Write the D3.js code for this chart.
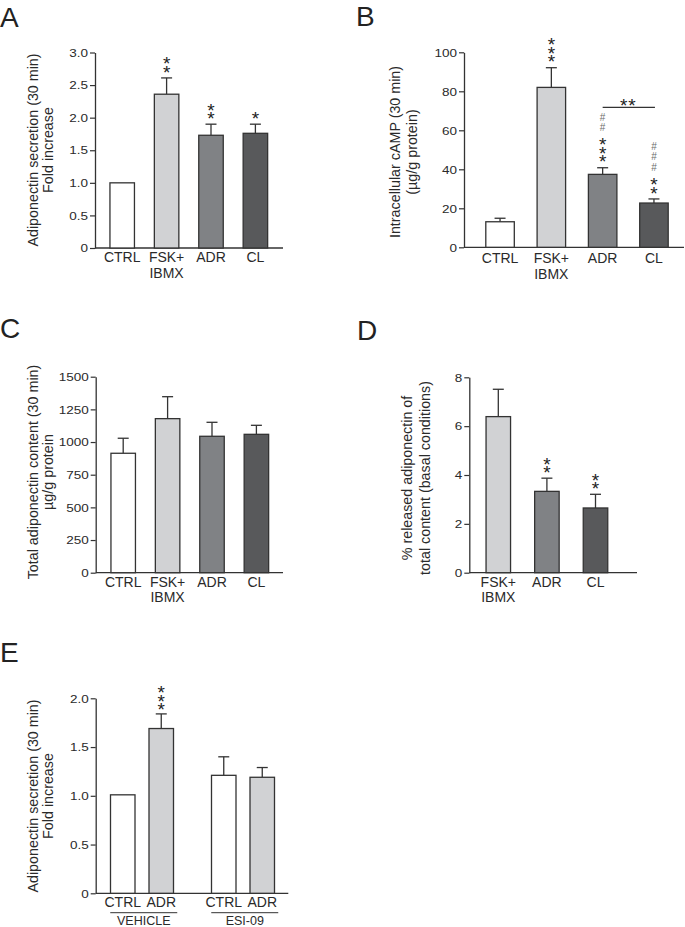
<!DOCTYPE html>
<html>
<head>
<meta charset="utf-8">
<script src="https://cdn.jsdelivr.net/npm/d3@7"></script>
<style>
  html, body { margin: 0; padding: 0; background: #fff; }
  svg { display: block; font-family: "Liberation Sans", Arial, Helvetica, sans-serif; }
  .vstack { writing-mode: vertical-rl; text-orientation: upright; }
</style>
</head>
<body>
<svg id="chart" width="685" height="927"></svg>
<script>
// ---------- DATA ----------
// Panel A: adiponectin secretion (fold increase)
const catsA = ["CTRL", "FSK+|IBMX", "ADR", "CL"];
const valsA = [1.0, 2.36, 1.73, 1.76];
const errsA = [0, 0.25, 0.17, 0.14];
const starsA = [0, 2, 2, 1];
const ticksA = [0, 0.5, 1.0, 1.5, 2.0, 2.5, 3.0];

// Panel B: intracellular cAMP
const catsB = ["CTRL", "FSK+|IBMX", "ADR", "CL"];
const valsB = [13.1, 82.0, 37.4, 22.7];
const errsB = [1.8, 10.1, 3.4, 2.1];
const starsB = [0, 3, 3, 2];
const hashesB = [0, 0, 2, 3];
const ticksB = [0, 20, 40, 60, 80, 100];

// Panel C: total adiponectin content
const catsC = ["CTRL", "FSK+|IBMX", "ADR", "CL"];
const valsC = [914, 1179, 1044, 1059];
const errsC = [115, 168, 107, 69];
const ticksC = [0, 250, 500, 750, 1000, 1250, 1500];

// Panel D: % released adiponectin
const catsD = ["FSK+|IBMX", "ADR", "CL"];
const valsD = [6.39, 3.33, 2.65];
const errsD = [1.12, 0.54, 0.56];
const starsD = [0, 2, 2];
const ticksD = [0, 2, 4, 6, 8];

// Panel E: adiponectin secretion with ESI-09
const groupsE = ["VEHICLE", "ESI-09"];
const condsE = ["CTRL", "ADR"];
const valsE = [[1.01, 1.69], [1.21, 1.19]];
const errsE = [[0, 0.15], [0.19, 0.10]];
const starsE = [[0, 3], [0, 0]];
const ticksE = [0, 0.5, 1.0, 1.5, 2.0];

// ---------- STYLE ----------
const WHITE = "#ffffff", LIGHT = "#d1d2d4", MID = "#808285", DARK = "#58595b";
const INK = "#333333", TXT = "#2a2a2a";
const STAR_FS = 19, STAR_STEP = 8.7, HASH_FS = 10, HASH_STEP = 10.5;
const VADV = 1.117; // vertical advance of an upright glyph (em)

const svg = d3.select("#chart");
const fmt1 = d => d === 0 ? "0" : d3.format(".1f")(d);
const fmt0 = d => d3.format("d")(d);

function yLabel(g, lines, xs, yc, fs) {
  lines.forEach((t, i) => {
    g.append("text")
      .attr("transform", `translate(${xs[i]},${yc}) rotate(-90)`)
      .attr("text-anchor", "middle")
      .attr("dominant-baseline", "central")
      .attr("font-size", fs)
      .attr("fill", TXT)
      .text(t);
  });
}

function letter(t, x, y) {
  svg.append("text").attr("x", x).attr("y", y)
    .attr("font-size", 28).attr("fill", "#222").text(t);
}

// vertical stack of symbols as a single text element
function vstack(g, cx, yTopCenter, n, ch, fs, step, fill, centerFrac) {
  if (!n) return;
  g.append("text").attr("class", "vstack")
    .attr("x", cx).attr("y", yTopCenter - centerFrac * fs)
    .attr("font-size", fs).attr("fill", fill)
    .attr("letter-spacing", step - VADV * fs)
    .text(ch.repeat(n));
}

function annot(g, cx, yFirst, nStars, nHash) {
  if (nStars) {
    const topC = yFirst - (nStars - 1) * STAR_STEP;
    vstack(g, cx, topC, nStars, "*", STAR_FS, STAR_STEP, "#222", 0.4);
  }
  if (nHash) {
    const base = yFirst - (Math.max(nStars, 1) - 1) * STAR_STEP - 14;
    const topH = base - (nHash - 1) * HASH_STEP;
    vstack(g, cx, topH, nHash, "#", HASH_FS, HASH_STEP, "#6e6e6e", 0.6);
  }
}

function styleYAxis(ax) {
  ax.select(".domain").attr("stroke", INK).attr("stroke-width", 1.3);
  ax.selectAll(".tick line").attr("stroke", INK).attr("stroke-width", 1.2);
  ax.selectAll(".tick text").attr("font-size", 13.5).attr("fill", TXT)
    .attr("font-family", '"Liberation Sans", Arial, sans-serif')
    .attr("transform", "scale(1,0.86)");
}

function panel(cfg) {
  const g = svg.append("g");
  const y = d3.scaleLinear().domain([0, cfg.max]).range([cfg.y0, cfg.yTop]);
  const x = d3.scalePoint().domain(cfg.cats).range(cfg.xRange).padding(0.5);

  g.append("line")
    .attr("x1", cfg.axisX).attr("x2", cfg.xEnd)
    .attr("y1", cfg.y0).attr("y2", cfg.y0)
    .attr("stroke", INK).attr("stroke-width", 1.3);

  const ax = g.append("g").attr("transform", `translate(${cfg.axisX},0)`)
    .call(d3.axisLeft(y).tickValues(cfg.ticks).tickFormat(cfg.fmt)
      .tickSize(5).tickSizeOuter(0).tickPadding(2));
  styleYAxis(ax);

  cfg.cats.forEach((c, i) => {
    if (!cfg.errs[i]) return;
    const cx = x(c);
    const yt = y(cfg.vals[i] + cfg.errs[i]);
    g.append("line").attr("x1", cx).attr("x2", cx)
      .attr("y1", y(cfg.vals[i])).attr("y2", yt)
      .attr("stroke", INK).attr("stroke-width", 1.3);
    g.append("line").attr("x1", cx - 5.5).attr("x2", cx + 5.5)
      .attr("y1", yt).attr("y2", yt)
      .attr("stroke", INK).attr("stroke-width", 1.3);
  });

  g.selectAll("rect.bar").data(cfg.cats).join("rect")
    .attr("x", c => x(c) - cfg.barW / 2)
    .attr("width", cfg.barW)
    .attr("y", (c, i) => y(cfg.vals[i]))
    .attr("height", (c, i) => cfg.y0 - y(cfg.vals[i]))
    .attr("fill", (c, i) => cfg.fills[i])
    .attr("stroke", INK).attr("stroke-width", 1.3);

  cfg.cats.forEach(c => {
    const t = g.append("text").attr("x", x(c)).attr("y", cfg.y0 + cfg.xlDy)
      .attr("text-anchor", "middle").attr("font-size", 14).attr("fill", TXT);
    c.split("|").forEach((s, k) => {
      t.append("tspan").attr("x", x(c)).attr("dy", k === 0 ? 0 : 15.5).text(s);
    });
  });

  cfg.cats.forEach((c, i) => {
    const top = y(cfg.vals[i] + (cfg.errs[i] || 0));
    annot(g, x(c), top - 8.3, cfg.stars ? cfg.stars[i] : 0, cfg.hashes ? cfg.hashes[i] : 0);
  });

  yLabel(g, cfg.label, cfg.labelX, cfg.labelY, 14.3);
  return { g, x, y };
}

// ---- Panel A ----
letter("A", 0, 27);
panel({
  cats: catsA, vals: valsA, errs: errsA, stars: starsA, ticks: ticksA, max: 3.0, fmt: fmt1,
  axisX: 95, y0: 248, yTop: 52.5, xRange: [100, 277.6], xEnd: 283, barW: 24.5,
  fills: [WHITE, LIGHT, MID, DARK], xlDy: 14,
  label: ["Adiponectin secretion (30 min)", "Fold increase"], labelX: [33, 48], labelY: 150
});

// ---- Panel B ----
letter("B", 356, 26);
const pB = panel({
  cats: catsB, vals: valsB, errs: errsB, stars: starsB, hashes: hashesB, ticks: ticksB, max: 100, fmt: fmt0,
  axisX: 464, y0: 247.3, yTop: 52.3, xRange: [474.4, 679.6], xEnd: 684, barW: 28.5,
  fills: [WHITE, LIGHT, MID, DARK], xlDy: 16,
  label: ["Intracellular cAMP (30 min)", "(µg/g protein)"], labelX: [395, 411.5], labelY: 152
});
{
  const xa = pB.x(catsB[2]), xc = pB.x(catsB[3]);
  pB.g.append("line").attr("x1", xa).attr("x2", xc + 1).attr("y1", 107.3).attr("y2", 107.3)
    .attr("stroke", INK).attr("stroke-width", 1.2);
  pB.g.append("text").attr("x", (xa + xc) / 2).attr("y", 100.5 + 0.58 * STAR_FS)
    .attr("text-anchor", "middle").attr("font-size", STAR_FS).attr("fill", "#222")
    .attr("letter-spacing", 1).text("**");
}

// ---- Panel C ----
letter("C", 0, 338);
panel({
  cats: catsC, vals: valsC, errs: errsC, ticks: ticksC, max: 1500, fmt: fmt0,
  axisX: 95.7, y0: 572.7, yTop: 376.7, xRange: [101, 278.6], xEnd: 283, barW: 24.5,
  fills: [WHITE, LIGHT, MID, DARK], xlDy: 14,
  label: ["Total adiponectin content (30 min)", "µg/g protein"], labelX: [33, 48], labelY: 472
});

// ---- Panel D ----
letter("D", 357, 340);
panel({
  cats: catsD, vals: valsD, errs: errsD, stars: starsD, ticks: ticksD, max: 8, fmt: fmt0,
  axisX: 469.3, y0: 572.7, yTop: 377.3, xRange: [474, 619.8], xEnd: 637, barW: 24.5,
  fills: [LIGHT, MID, DARK], xlDy: 14,
  label: ["% released adiponectin of", "total content (basal conditions)"], labelX: [406.5, 425], labelY: 478
});

// ---- Panel E ----
letter("E", 0, 662);
{
  const g = svg.append("g");
  const y0 = 893.3, axisX = 95.7;
  const y = d3.scaleLinear().domain([0, 2.0]).range([y0, 698.3]);
  const gx = d3.scalePoint().domain(groupsE).range([91.5, 293.5]).padding(0.5);
  const ix = d3.scalePoint().domain(condsE).range([-38.5, 38.5]).padding(0.5);
  const fillsE = [WHITE, LIGHT];
  const barW = 24.5;

  g.append("line").attr("x1", axisX).attr("x2", 288.3).attr("y1", y0).attr("y2", y0)
    .attr("stroke", INK).attr("stroke-width", 1.3);
  const ax = g.append("g").attr("transform", `translate(${axisX},0)`)
    .call(d3.axisLeft(y).tickValues(ticksE).tickFormat(fmt1).tickSize(5).tickSizeOuter(0).tickPadding(2));
  styleYAxis(ax);

  groupsE.forEach((grp, gi) => {
    condsE.forEach((c, ci) => {
      const cx = gx(grp) + ix(c);
      const v = valsE[gi][ci], e = errsE[gi][ci];
      if (e) {
        g.append("line").attr("x1", cx).attr("x2", cx).attr("y1", y(v)).attr("y2", y(v + e))
          .attr("stroke", INK).attr("stroke-width", 1.3);
        g.append("line").attr("x1", cx - 5.5).attr("x2", cx + 5.5).attr("y1", y(v + e)).attr("y2", y(v + e))
          .attr("stroke", INK).attr("stroke-width", 1.3);
      }
      g.append("rect").attr("x", cx - barW / 2).attr("width", barW)
        .attr("y", y(v)).attr("height", y0 - y(v))
        .attr("fill", fillsE[ci]).attr("stroke", INK).attr("stroke-width", 1.3);
      g.append("text").attr("x", cx).attr("y", y0 + 13.7).attr("text-anchor", "middle")
        .attr("font-size", 14).attr("fill", TXT).text(c);
      annot(g, cx, y(v + e) - 6.8, starsE[gi][ci], 0);
    });
    const xl = gx(grp) + ix(condsE[0]) - 12.5, xr = gx(grp) + ix(condsE[1]) + 16;
    g.append("line").attr("x1", xl).attr("x2", xr).attr("y1", 912.7).attr("y2", 912.7)
      .attr("stroke", INK).attr("stroke-width", 1);
    g.append("text").attr("x", (xl + xr) / 2).attr("y", 925).attr("text-anchor", "middle")
      .attr("font-size", 12.5).attr("fill", TXT).text(grp);
  });
  yLabel(g, ["Adiponectin secretion (30 min)", "Fold increase"], [33, 48], 796, 14.3);
}
</script>
</body>
</html>
